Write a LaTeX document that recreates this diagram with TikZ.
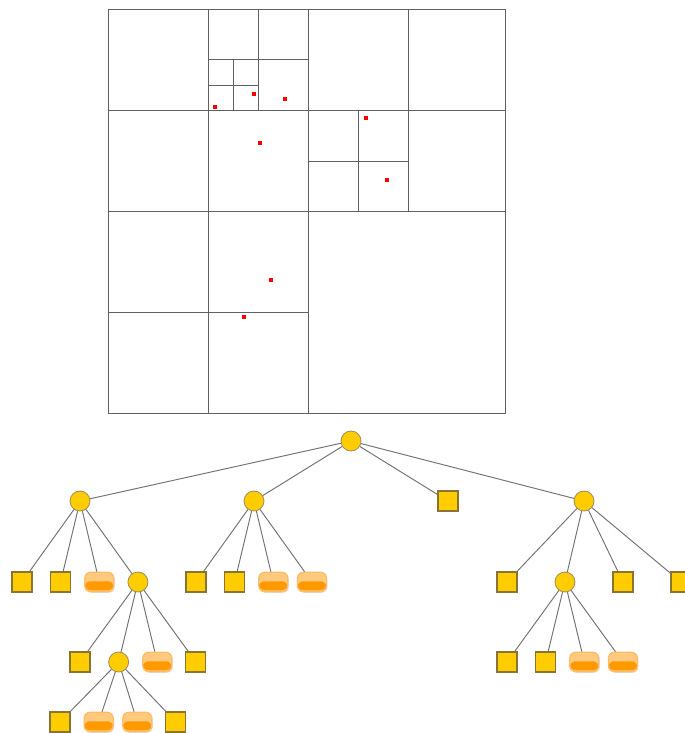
\documentclass[tikz,border=0pt]{standalone}
\usetikzlibrary{positioning,shadows}
\usepackage{xcolor}

\definecolor{gold}{HTML}{FFCC00}
\definecolor{goldline}{HTML}{8A7434}
\definecolor{pilllight}{HTML}{FFC97E}
\definecolor{pilldark}{HTML}{FF9900}
\definecolor{pillline}{HTML}{FFBB66}

\begin{document}
\begin{tikzpicture}[x=0.02cm, y=-0.02cm, node distance={7.73mm},
    grid/.style = {draw=black!62, line width=0.55pt},
    edge/.style = {draw=black!55, line width=0.55pt},
    inner/.style = {draw=goldline!80, fill=gold, circle, minimum size=4mm, inner sep=0pt, line width=0.5pt},
    leaf/.style = {draw=goldline, fill=gold, rectangle, minimum size=4mm, inner sep=0pt, line width=0.6pt},
    full/.style = {draw=pillline, fill=pilllight, rounded corners=1.2mm, minimum width=5.8mm, minimum height=3.9mm, inner sep=0pt, line width=0.7pt,
        drop shadow={opacity=0.25, shadow xshift=0.6pt, shadow yshift=-0.6pt},
        path picture={\fill[pilldark] ([yshift=0.15mm]path picture bounding box.west) rectangle ([yshift=0.3mm]path picture bounding box.south east);}}]

    \useasboundingbox (0,0) rectangle (684,733);

    % quadtree
    \draw[grid] (108,9) rectangle (505,413);
    \draw[grid] (208,9) -- (208,413);
    \draw[grid] (308,9) -- (308,413);
    \draw[grid] (408,9) -- (408,211);
    \draw[grid] (108,110) -- (505,110);
    \draw[grid] (108,211) -- (505,211);
    \draw[grid] (108,312) -- (308,312);
    \draw[grid] (258,9) -- (258,110);
    \draw[grid] (208,59) -- (308,59);
    \draw[grid] (233,59) -- (233,110);
    \draw[grid] (208,85) -- (258,85);
    \draw[grid] (358,110) -- (358,211);
    \draw[grid] (308,161) -- (408,161);

    \foreach \p in {(215,107),(254,94),(285,99),(366,118),(260,143),(387,180),(271,280),(244,317)}
        \fill[red] \p ++(-2,-2) rectangle ++(4,4);

    % tree
    \node[inner] (0) at (351,441) {};
    \node[inner] (1) at (80,501) {};
    \node[inner] (2) at (254,501) {};
    \node[leaf] (3) at (448,501) {};
    \node[inner] (4) at (584,501) {};

    \node[leaf] (11) at (22,582) {};
    \node[leaf] (12) [right of = 11] {};
    \node[full] (13) [right of = 12] {};
    \node[inner] (14) [right of = 13] {};

    \node[leaf] (141) at (80,662) {};
    \node[inner] (142) [right of = 141] {};
    \node[full] (143) [right of = 142] {};
    \node[leaf] (144) [right of = 143] {};

    \node[leaf] (1421) at (60,722) {};
    \node[full] (1422) [right of = 1421] {};
    \node[full] (1423) [right of = 1422] {};
    \node[leaf] (1424) [right of = 1423] {};

    \node[leaf] (21) at (196,582) {};
    \node[leaf] (22) [right of = 21] {};
    \node[full] (23) [right of = 22] {};
    \node[full] (24) [right of = 23] {};

    \node[leaf] (41) at (507,582) {};
    \node[inner] (42) [right of = 41, node distance=11.6mm] {};
    \node[leaf] (43) [right of = 42, node distance=11.6mm] {};
    \node[leaf] (44) [right of = 43, node distance=11.6mm] {};

    \node[leaf] (421) at (507,662) {};
    \node[leaf] (422) [right of = 421] {};
    \node[full] (423) [right of = 422] {};
    \node[full] (424) [right of = 423] {};

    \foreach \c in {1,2,3,4} \draw[edge] (0) -- (\c);
    \foreach \c in {11,12,13,14} \draw[edge] (1) -- (\c);
    \foreach \c in {141,142,143,144} \draw[edge] (14) -- (\c);
    \foreach \c in {1421,1422,1423,1424} \draw[edge] (142) -- (\c);
    \foreach \c in {21,22,23,24} \draw[edge] (2) -- (\c);
    \foreach \c in {41,42,43,44} \draw[edge] (4) -- (\c);
    \foreach \c in {421,422,423,424} \draw[edge] (42) -- (\c);

\end{tikzpicture}
\end{document}
